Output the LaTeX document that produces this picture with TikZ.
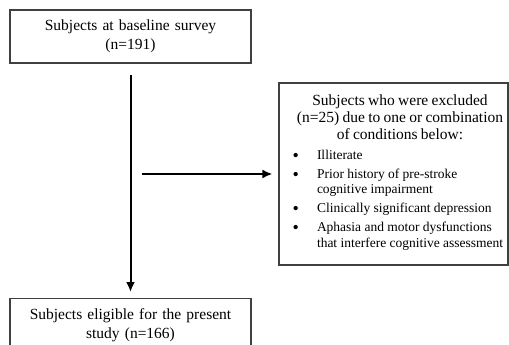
\documentclass[tikz,border=0pt]{standalone}
\usepackage{fontspec}
\setmainfont{Liberation Serif}
\usepackage{enumitem}
\usetikzlibrary{arrows.meta}

\tikzset{
  box/.style={draw=black!75, line width=1.2pt, align=center,
    font=\fontsize{15.5}{19}\selectfont},
  arr/.style={line width=2pt, -{Latex[length=10pt,width=9pt]}}
}

\begin{document}
\begin{tikzpicture}[x=1pt,y=-1pt]

\useasboundingbox (0,0) rectangle (509,345);
\clip (0,0) rectangle (509,345);

% Boxes
\node[box, minimum width=241pt, minimum height=53pt, text width=221pt] (base) at (130.5,36.5) {Subjects at baseline survey\\(n=191)};
\node[box, anchor=north, text width=221pt, inner xsep=10pt, inner ysep=9.5pt] (elig) at (130.5,298) {Subjects eligible for the present\\study (n=166)};
\node[box, minimum width=229pt, minimum height=182pt] (excl) at (393.5,174) {};

% Text of the excluded box
\node[anchor=north, text width=220pt, inner sep=0pt] (exclText) at (400,94.5) {%
  {\centering\fontsize{15.5}{17}\selectfont Subjects who were excluded\\(n=25) due to one or combination\\of conditions below:\par}
  \fontsize{13.5}{15.5}\selectfont
  \begin{itemize}[nosep, topsep=4.5pt, itemsep=3.5pt, leftmargin=27pt, labelsep=18pt,
      label={\raisebox{-2pt}{\fontsize{18}{15.5}\selectfont\textbullet}}]
    \item Illiterate
    \item Prior history of pre-stroke\newline cognitive impairment
    \item Clinically significant depression
    \item Aphasia and motor dysfunctions\newline that interfere cognitive assessment
  \end{itemize}};

% Arrows
\coordinate (split) at (142,174);
\draw[arr, shorten <=11pt, shorten >=6pt] (base.south) -- (elig.north);
\draw[arr, shorten >=6pt] (split) -- (excl.west);

\end{tikzpicture}
\end{document}
